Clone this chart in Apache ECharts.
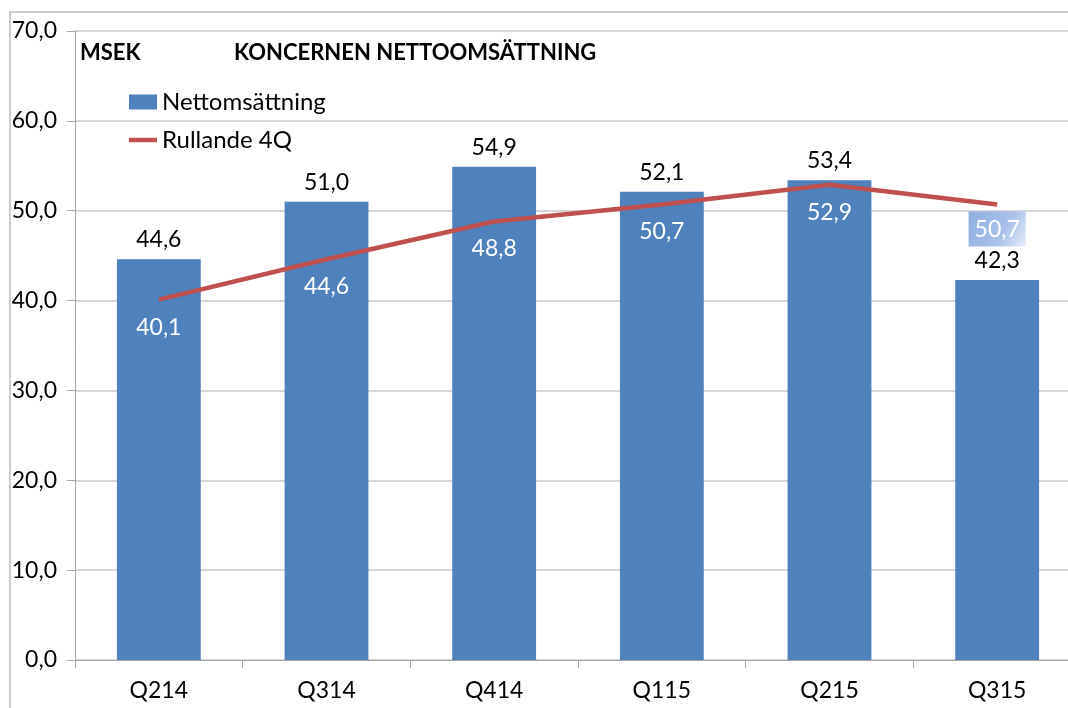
<!DOCTYPE html>
<html>
<head>
    <meta charset="utf-8">
    <script src="https://cdn.jsdelivr.net/npm/echarts@6/dist/echarts.min.js"></script>
</head>
<body style="margin:0;overflow:hidden">
    <!-- diagrammet går lite utanför högerkanten, precis som i originalet -->
    <div id="main" style="width: 1090px;height:708px;"></div>
    <script type="text/javascript">
        var quarters = ['Q214', 'Q314', 'Q414', 'Q115', 'Q215', 'Q315'];
        var nettoomsattning = [44.6, 51.0, 54.9, 52.1, 53.4, 42.3];
        var rullande4Q = [40.1, 44.6, 48.8, 50.7, 52.9, 50.7];

        var font = 'Lato, "Open Sans", sans-serif';
        function komma(v) {
            return v.toFixed(1).replace('.', ',');
        }

        var myChart = echarts.init(document.getElementById('main'));

        // sista punkten har ett eget blått fält bakom etiketten
        var lineData = rullande4Q.map(function (v, i) {
            if (i === rullande4Q.length - 1) {
                return {
                    value: v,
                    label: {
                        backgroundColor: new echarts.graphic.LinearGradient(0, 0, 1, 1, [
                            { offset: 0, color: '#8eaee0' },
                            { offset: 0.6, color: '#a9c1ea' },
                            { offset: 1, color: '#e6eefa' }
                        ]),
                        padding: [7, 6, 5, 6],
                        distance: 7
                    }
                };
            }
            return v;
        });

        var option = {
            animation: false,
            textStyle: { fontFamily: font },
            graphic: [
                {
                    type: 'rect',
                    shape: { x: 10, y: 12, width: 1070, height: 720 },
                    style: { fill: 'none', stroke: '#bdbdbd', lineWidth: 1.5 }
                },
                {
                    type: 'text', left: 80, top: 42,
                    style: { text: 'MSEK', font: 'bold 22px ' + font, fill: '#000' }
                },
                {
                    type: 'text', left: 234, top: 42,
                    style: { text: 'KONCERNEN NETTOOMSÄTTNING', font: 'bold 22px ' + font, fill: '#000' }
                }
            ],
            legend: {
                orient: 'vertical',
                left: 124,
                top: 85,
                itemGap: 14,
                itemWidth: 28,
                itemHeight: 15,
                textStyle: { fontSize: 24, color: '#000', fontFamily: font },
                data: [
                    { name: 'Nettomsättning', icon: 'rect' },
                    { name: 'Rullande 4Q', icon: 'path://M0,0 L100,0 L100,16 L0,16 Z', itemStyle: { color: '#c0504d' } }
                ]
            },
            grid: {
                left: 75,
                top: 31,
                right: 9,
                height: 629
            },
            xAxis: {
                type: 'category',
                data: quarters,
                axisLine: { lineStyle: { color: '#a6a6a6', width: 1 } },
                axisTick: { show: true, length: 8, lineStyle: { color: '#a6a6a6' } },
                axisLabel: { fontSize: 23, color: '#000', margin: 19, fontFamily: font }
            },
            yAxis: {
                type: 'value',
                min: 0,
                max: 70,
                interval: 10,
                axisLine: { show: true, lineStyle: { color: '#a6a6a6' } },
                axisTick: { show: true, length: 8, lineStyle: { color: '#a6a6a6' } },
                axisLabel: {
                    fontSize: 23, color: '#000', margin: 18, fontFamily: font,
                    formatter: function (v) { return komma(v); }
                },
                splitLine: { lineStyle: { color: '#c8c8c8', width: 1.5 } }
            },
            series: [
                {
                    name: 'Nettomsättning',
                    type: 'bar',
                    barWidth: '50%',
                    data: nettoomsattning,
                    itemStyle: { color: '#4f81bd' },
                    label: {
                        show: true,
                        position: 'top',
                        distance: 8,
                        fontSize: 23,
                        color: '#000',
                        fontFamily: font,
                        formatter: function (p) { return komma(p.value); }
                    }
                },
                {
                    name: 'Rullande 4Q',
                    type: 'line',
                    data: lineData,
                    symbol: 'circle',
                    symbolSize: 0,
                    showSymbol: true,
                    lineStyle: { color: '#c0504d', width: 4.5 },
                    itemStyle: { color: '#c0504d' },
                    label: {
                        show: true,
                        position: 'bottom',
                        distance: 16,
                        fontSize: 23,
                        color: '#fff',
                        fontFamily: font,
                        formatter: function (p) { return komma(p.value); }
                    }
                }
            ]
        };

        myChart.setOption(option);
    </script>
</body>
</html>
